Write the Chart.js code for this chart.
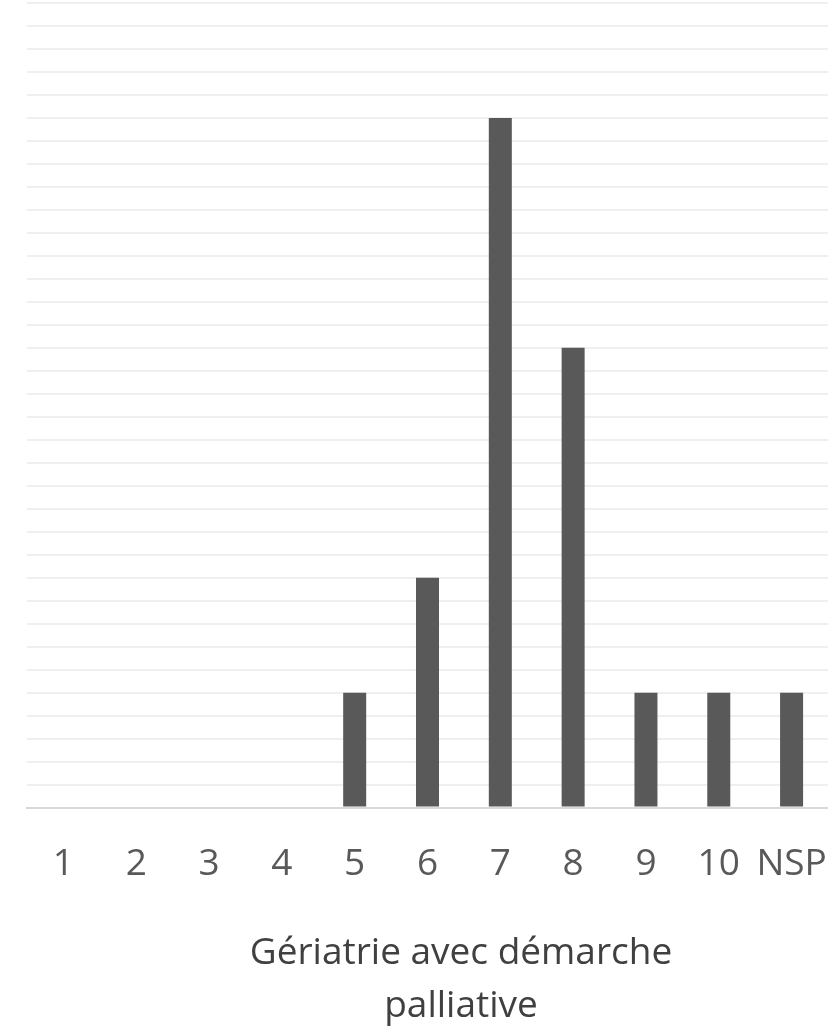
<!DOCTYPE html>
<html>
<head>
<meta charset="utf-8">
<script src="https://cdn.jsdelivr.net/npm/chart.js@4"></script>
<style>
  html, body { margin: 0; padding: 0; background: #fff; }
  #wrap { width: 828px; height: 1026px; }
</style>
</head>
<body>
<div id="wrap"><canvas id="chart"></canvas></div>
<script>
// Data
const categories = ['1', '2', '3', '4', '5', '6', '7', '8', '9', '10', 'NSP'];
const counts = [0, 0, 0, 0, 1, 2, 6, 4, 1, 1, 1];
const titleLines = ['Gériatrie avec démarche', 'palliative'];

// Axis title drawn off-centre, as in the original crop
const axisTitle = {
    id: 'axisTitle',
    afterDraw(chart) {
        const c = chart.ctx;
        c.save();
        c.fillStyle = '#404040';
        c.font = '37px "Open Sans"';
        c.textAlign = 'center';
        c.textBaseline = 'alphabetic';
        c.fillText(titleLines[0], 461, 964);
        c.fillText(titleLines[1], 461, 1017);
        c.restore();
    }
};

new Chart(document.getElementById('chart'), {
    type: 'bar',
    data: {
        labels: categories,
        datasets: [{
            data: counts,
            backgroundColor: '#595959',
            barPercentage: 0.316,
            categoryPercentage: 1
        }]
    },
    options: {
        responsive: true,
        maintainAspectRatio: false,
        animation: false,
        layout: { padding: { left: 27, right: 0, top: 3, bottom: 139 } },
        plugins: {
            legend: { display: false },
            tooltip: { enabled: false }
        },
        scales: {
            x: {
                grid: { display: true, drawOnChartArea: false, drawTicks: true, tickLength: 35, color: 'rgba(0,0,0,0)' },
                border: { display: true, color: '#d9d9d9', width: 2 },
                ticks: {
                    color: '#595959',
                    font: { family: 'Open Sans', size: 37 },
                    padding: 0,
                    maxRotation: 0,
                    autoSkip: false
                }
            },
            y: {
                min: 0,
                max: 7,
                grid: { color: '#efefef', lineWidth: 2, drawTicks: false },
                border: { display: false },
                ticks: { display: false, stepSize: 0.2 }
            }
        }
    },
    plugins: [axisTitle]
});
</script>
</body>
</html>
